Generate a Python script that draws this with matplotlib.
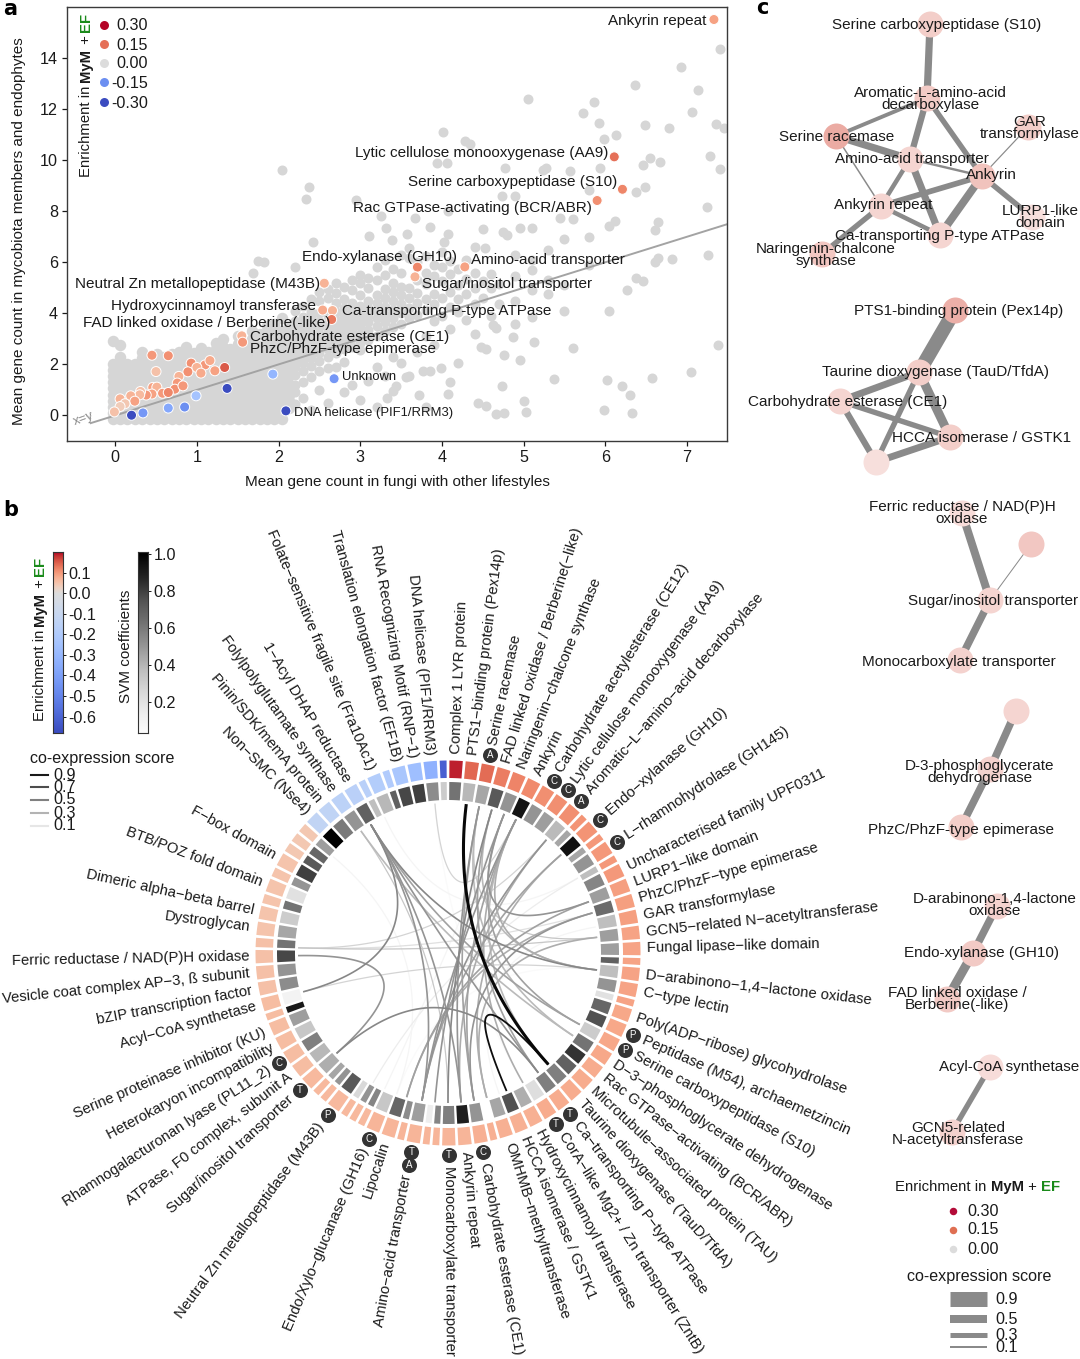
import numpy as np
import matplotlib
matplotlib.use("Agg")
import matplotlib.pyplot as plt
from matplotlib.colors import Normalize, TwoSlopeNorm

plt.rcParams['font.family'] = ['Liberation Sans', 'DejaVu Sans']
FS = 11.0
FL = 11.6
FR = 10.7
TXT = '#1a1a1a'

# ---------- panel a data ----------
cloud_col_x = [-.03,.06,.15,.24,.33,.42,.51,.6,.69,.78,.87,.96,1.05,1.14,1.23,1.32,1.41,1.5,1.59,1.68,1.77,1.86,1.95,2.04,2.13,
               2.2,2.3,2.4,2.5,2.6,2.7,2.8,2.9,3.0,3.1,3.2,3.3,3.4,3.5,3.6,3.7,3.8,3.9,4.0,4.1,4.2,4.3,4.4,4.5,4.6,4.7,4.9,5.1,5.3,5.5,5.8]
cloud_col_y = [
 [-.13,.1,.34,.58,.82,1.06,1.3,1.54,1.78,2.02,2.9],
 [-.13,.12,.36,.6,.84,1.08,1.32,1.56,1.8,2.05,2.3,2.75],
 [-.13,.1,.34,.58,.82,1.06,1.3,1.54,1.78,2.0],
 [-.13,.12,.36,.6,.84,1.08,1.32,1.56,1.8,2.0],
 [-.13,.1,.34,.58,.82,1.06,1.3,1.54,1.78,2.02,2.25,2.5],
 [-.13,.12,.36,.6,.84,1.08,1.32,1.56,1.8,2.1],
 [-.13,.1,.34,.58,.82,1.06,1.3,1.54,1.78,2.02,2.4],
 [-.13,.12,.36,.6,.84,1.08,1.32,1.56,1.8,2.05,2.3],
 [-.13,.1,.34,.58,.82,1.06,1.3,1.54,1.78,2.02,2.26,2.42],
 [-.13,.12,.36,.6,.84,1.08,1.32,1.56,1.8,2.05,2.25,2.5],
 [-.13,.1,.34,.58,.82,1.06,1.3,1.54,1.78,2.02,2.26,2.4,2.7],
 [-.13,.12,.36,.6,.84,1.08,1.32,1.56,1.8,2.05,2.3,2.45],
 [-.13,.1,.34,.58,.82,1.06,1.3,1.54,1.78,2.02,2.26,2.4,2.65],
 [-.13,.12,.36,.6,.84,1.08,1.32,1.56,1.8,2.05,2.3,2.5],
 [-.13,.1,.34,.58,.82,1.06,1.3,1.54,1.78,2.02,2.26,2.6,2.85],
 [-.13,.12,.36,.6,.84,1.08,1.32,1.56,1.8,2.05,2.3,2.55,2.7,3.0],
 [-.13,.1,.34,.58,.82,1.06,1.3,1.54,1.78,2.02,2.26,2.6],
 [-.13,.12,.36,.6,.84,1.08,1.32,1.56,1.8,2.05,2.3,2.55,2.8,3.1],
 [-.13,.1,.34,.58,.82,1.06,1.3,1.54,1.78,2.02,2.26,2.5,2.7],
 [-.13,.12,.36,.6,.84,1.08,1.32,1.56,1.8,2.05,2.3,2.55,2.8,3.0,3.3],
 [-.13,.1,.34,.58,.82,1.06,1.3,1.54,1.78,2.02,2.26,2.5,2.74,3.2],
 [-.13,.12,.36,.6,.84,1.08,1.32,1.56,1.8,2.05,2.3,2.55,2.8,3.1,3.5],
 [-.13,.1,.34,.58,.82,1.06,1.3,1.54,1.78,2.02,2.26,2.5,2.74,2.98,3.3,3.6],
 [-.13,.3,.6,.84,1.08,1.32,1.56,1.8,2.05,2.3,2.55,2.8,3.05,3.3,3.8],
 [.3,.55,.82,1.2,1.54,1.78,2.02,2.26,2.5,2.74,2.98,3.22,3.5],
 [.45,.9,1.2,1.6,1.9,2.15,2.4,2.65,2.9,3.15,3.4,3.7,4.1],
 [.7,1.3,1.75,2.05,2.3,2.55,2.8,3.05,3.3,3.55,3.85,4.3],
 [.2,1.5,1.95,2.25,2.5,2.75,3.0,3.25,3.5,3.8,4.05,4.55],
 [1.0,1.75,2.15,2.45,2.7,2.95,3.2,3.45,3.7,4.0,4.5,4.85],
 [.5,1.85,2.3,2.6,2.85,3.1,3.35,3.6,3.9,4.6,4.95],
 [1.9,2.45,2.75,3.0,3.25,3.5,3.75,4.05,4.4,4.8,5.2],
 [.9,2.1,2.6,2.9,3.15,3.4,3.65,3.9,4.2,4.55,5.05],
 [1.2,2.7,3.05,3.3,3.55,3.8,4.1,4.4,4.9,5.3],
 [.6,2.55,2.85,3.2,3.5,3.75,4.0,4.3,4.7,5.2,5.5],
 [1.35,2.95,3.35,3.65,3.9,4.2,4.5,5.0,5.4],
 [.35,1.9,3.1,3.5,3.8,4.1,4.4,4.7,5.3,5.8],
 [1.55,3.3,3.65,3.95,4.25,4.6,4.95,5.5,6.1],
 [.95,2.3,3.45,3.8,4.15,4.5,4.85,5.2,5.75],
 [2.05,3.6,4.0,4.35,4.7,5.05,5.6,6.3],
 [1.55,3.8,4.2,4.6,5.0,6.15,6.55],
 [2.5,3.95,4.4,4.8,5.3,6.0],
 [.35,3.1,4.15,4.55,5.15,5.6,6.25],
 [2.75,3.7,4.35,4.75,5.45,5.9],
 [3.9,4.6,5.25,5.8,6.4],
 [1.3,3.4,4.25,4.85,5.55,6.05],
 [2.05,4.05,4.55,5.1,5.75],
 [3.75,4.75,5.35,6.1],
 [3.2,4.35,5.0,5.6,6.6],
 [4.6,5.25,7.3],
 [3.9,5.0,5.55],
 [4.35,5.15],
 [3.6,4.5,5.45,6.3],
 [3.85,4.9,5.7,6.1],
 [4.75,5.3,6.5],
 [4.1,5.1,6.9],
 [5.9,7.0],
]
DENSE_COLS = 25
outlier_x = [7.40,6.93,6.36,7.13,5.05,5.86,5.73,7.06,5.92,6.48,6.78,7.35,7.45,4.01,6.13,5.99,4.28,4.34,7.28,6.55,6.67,6.46,3.94,4.06,4.77,5.24,5.27,5.57,5.93,7.4,2.04,2.37,6.37,6.49,5.8,4.73,4.89,2.34,7.25,2.95,3.25,3.67,4.08,5.44,5.6,6.12,6.04,6.64,6.61,3.31,4.95,5.1,3.86,4.75,4.8,3.11,4.08,3.57,3.39,2.42,4.02,4.53,7.26,6.64,6.61,6.82,1.75,1.82,2.2,1.69,6.37,6.46,6.26,6.05,4.63,4.66,4.87,5.13,5.6,7.38,4.48,4.54,4.76,4.95,7.05,3.99,3.77,3.85,6.57,5.37,6.02,4.73,6.2,6.3,4.07,3.72,4.44,4.54,5.0,5.99,6.33,4.66,4.76,5.03,3.44,3.33,3.56]
outlier_y = [14.35,13.64,12.96,12.75,12.38,12.28,11.83,11.9,11.46,11.36,11.25,11.41,11.25,11.12,11.0,10.82,10.77,10.64,10.18,10.08,9.92,9.83,9.9,9.88,9.7,9.62,9.71,9.58,9.69,9.66,9.6,8.96,8.77,8.96,8.84,8.58,8.58,8.46,8.15,8.45,7.82,7.72,7.99,7.73,7.69,7.6,7.43,7.56,7.25,7.36,7.34,7.34,7.38,7.2,7.08,7.04,7.1,7.11,6.88,6.79,6.81,6.55,6.29,6.16,6.03,6.14,6.07,6.03,5.8,5.57,5.4,5.25,4.9,4.11,3.55,3.42,3.09,2.86,2.66,2.77,2.7,2.6,2.35,2.18,1.72,1.85,1.76,1.75,1.46,1.42,1.4,1.17,1.14,.81,.84,.81,.48,.39,.55,.2,.09,.05,.09,.12,1.14,.68,1.52]

enr_x = [7.33,6.11,6.21,5.90,3.70,4.28,3.67,2.56,2.54,2.66,2.65,1.55,1.56,2.68,2.09,1.37,1.93,.99,.85,.65,.34,.2,
         1.34,.45,.65,.5,1.1,1.16,.93,1.22,1.0,.89,1.05,.78,.76,.73,.83,.46,.51,.58,.65,.45,.38,.31,.3,.19,.06,.24,.12,.06,-.01]
enr_y = [15.51,10.13,8.86,8.42,5.81,5.82,5.43,5.18,4.13,4.11,3.76,3.12,2.87,1.44,.18,1.06,1.62,.77,.33,.29,.10,.01,
         1.88,2.36,2.34,1.72,1.98,2.15,2.05,1.75,1.88,1.71,1.66,1.53,1.27,1.03,1.16,1.1,1.11,.87,.9,.84,.8,.94,.81,.77,.65,.56,.46,.35,.14]
enr_v = [.10,.15,.13,.12,.13,.10,.08,.08,.09,.08,.14,.08,.11,-.14,-.3,-.28,-.1,-.08,-.15,-.12,-.14,-.3,
         .17,.11,.12,.06,.11,.09,.12,.10,.08,.12,.09,.08,.11,.12,.11,.1,.08,.11,.13,.1,.11,.06,.07,.08,.08,.1,.05,.04,.06]
legend_a_vals = [.30,.15,0.0,-.15,-.30]
legend_a_labels = ['0.30','0.15','0.00','-0.15','-0.30']

a_labels = [("Ankyrin repeat",706,20,'right',FS),("Lytic cellulose monooxygenase (AA9)",608,152,'right',FS),
 ("Serine carboxypeptidase (S10)",617,181,'right',FS),("Rac GTPase-activating (BCR/ABR)",592,207,'right',FS),
 ("Endo-xylanase (GH10)",457,256,'right',FS),("Amino-acid transporter",471,259,'left',FS),
 ("Sugar/inositol transporter",422,283,'left',FS),("Neutral Zn metallopeptidase (M43B)",320,283,'right',FS),
 ("Hydroxycinnamoyl transferase",316,305,'right',FS),("Ca-transporting P-type ATPase",342,310,'left',FS),
 ("FAD linked oxidase / Berberine(-like)",330,322,'right',FS),("Carbohydrate esterase (CE1)",250,336,'left',FS),
 ("PhzC/PhzF-type epimerase",250,348,'left',FS),("Unknown",342,376,'left',9.4),("DNA helicase (PIF1/RRM3)",294,412,'left',9.4)]

# ---------- panel b data ----------
ring_width = [1,1,1,1,1,1,1,1,1,.6,1,.6,1,.6,1,1,1,1,1,1,.6,1,1,.6,1,1,1,1,1,1,1,1,1,1,1,1,.6,1,1,1,.6,.6,1,.6,1,1,.6,.6,.6,1,.6,.6,1,1,1,1,1,.6,1,1,1,1,.75,1,1,.75,1,.75,1,.75,.75,.75,1,1,1,1,.6,1,.6,1,1,1,.6]
ring_svm = [.55,.28,.35,.65,.42,.92,.42,.38,.27,.35,.93,.35,.42,.25,.48,.38,.58,.25,.38,.38,.62,.25,.42,.12,.6,.68,.2,.55,.8,.62,.5,.5,.13,.32,.68,.35,0,.42,.88,.5,.48,.07,.38,.45,.6,.22,.48,.42,.15,.65,.42,.35,.32,.28,.5,.22,.38,.9,.05,.45,.42,.72,.55,.35,.2,.55,.12,.42,.75,.65,.6,.38,1.0,.52,.42,.62,.25,.28,.62,.72,.75,.45,.2]
ring_enrich = [.19,.145,.14,.125,.12,.115,.11,.11,.11,.105,.105,.10,.10,.10,.10,.095,.095,.095,.09,.09,
 .09,.09,.09,.09,.085,.085,.085,.085,.08,.08,.08,.08,.08,.075,.075,.075,.075,.075,.07,.07,
 .07,.07,.07,.07,.07,.07,.065,.065,.065,.065,.065,.065,.065,.06,.06,.06,.06,.06,.06,.055,
 .055,.055,.055,.05,.05,.05,.05,.05,.05,.045,.045,.045,
 -.13,-.135,-.15,-.16,-.17,-.19,-.2,-.23,-.27,-.33,-.62]
ring_labels = ["Complex 1 LYR protein","PTS1−binding protein (Pex14p)","Serine racemase","FAD linked oxidase / Berberine(−like)",
 "Naringenin−chalcone synthase","Ankyrin","Carbohydrate acetylesterase (CE12)","Lytic cellulose monooxygenase (AA9)",
 "Aromatic−L−amino−acid decarboxylase","Endo−xylanase (GH10)","L−rhamnohydrolase (GH145)","Uncharacterised family UPF0311",
 "LURP1−like domain","PhzC/PhzF−type epimerase","GAR transformylase","GCN5−related N−acetyltransferase","Fungal lipase−like domain",
 "D−arabinono−1,4−lactone oxidase","C−type lectin","Poly(ADP−ribose) glycohydrolase","Peptidase (M54), archaemetzincin",
 "Serine carboxypeptidase (S10)","D−3−phosphoglycerate dehydrogenase","Rac GTPase−activating (BCR/ABR)",
 "Microtubule−associated protein (TAU)","Taurine dioxygenase (TauD/TfdA)","Ca−transporting P−type ATPase",
 "CorA−like Mg2+ / Zn transporter (ZntB)","Hydroxycinnamoyl transferase","HCCA isomerase / GSTK1","OMHMB−methyltransferase",
 "Carbohydrate esterase (CE1)","Ankyrin repeat","Monocarboxylate transporter","Amino−acid transporter","Lipocalin",
 "Endo/Xylo−glucanase (GH16)","Neutral Zn metallopeptidase (M43B)","Sugar/inositol transporter","ATPase, F0 complex, subunit A",
 "Rhamnogalacturonan lyase (PL11_2)","Heterokaryon incompatibility","Serine proteinase inhibitor (KU)","Acyl−CoA synthetase",
 "bZIP transcription factor","Vesicle coat complex AP−3, ß subunit","Ferric reductase / NAD(P)H oxidase","Dystroglycan",
 "Dimeric alpha−beta barrel","BTB/POZ fold domain","F−box domain","Non−SMC (Nse4)","Pinin/SDK/memA protein",
 "Folylpolyglutamate synthase","1−Acyl DHAP reductase","Folate−sensitive fragile site (Fra10Ac1)",
 "Translation elongation factor (EF1B)","RNA Recognizing Motif (RNP−1)","DNA helicase (PIF1/RRM3)"]
ring_badges = {"Serine racemase":"A","Carbohydrate acetylesterase (CE12)":"C","Lytic cellulose monooxygenase (AA9)":"C",
 "Aromatic−L−amino−acid decarboxylase":"A","Endo−xylanase (GH10)":"C","L−rhamnohydrolase (GH145)":"C",
 "Peptidase (M54), archaemetzincin":"P","Serine carboxypeptidase (S10)":"P","Ca−transporting P−type ATPase":"T",
 "CorA−like Mg2+ / Zn transporter (ZntB)":"T","Carbohydrate esterase (CE1)":"C","Monocarboxylate transporter":"T",
 "Amino−acid transporter":"TA","Endo/Xylo−glucanase (GH16)":"C","Neutral Zn metallopeptidase (M43B)":"P",
 "Sugar/inositol transporter":"T","Rhamnogalacturonan lyase (PL11_2)":"C"}
chord_a = [7,157,329,329,329,329,329,324.5,324.5,255,269,228,255,272,272,272,70,74.5,84,84,96.5,96.5,49,41,27,22,17,12,12,27,41,49,70,74.5,355,355,118.5,123.5,143,138,150,200,205,210,80,335,310]
chord_b = [138,138,96.5,190,175,118.5,143,123.5,180,329,228,143,96.5,84,74.5,41,22,170,165,12,17,27,190,190,190,185,180,175,170,170,175,165,196,196,27,150,22,12,17,27,27,96.5,22,60,160,60,200]
chord_s = [.97,.95,.55,.5,.5,.45,.5,.35,.3,.55,.5,.55,.25,.3,.2,.25,.5,.5,.4,.3,.35,.4,.45,.5,.5,.5,.55,.5,.45,.45,.4,.4,.45,.4,.25,.1,.45,.35,.45,.35,.4,.1,.12,.15,.12,.12,.12]
coexp_levels = [.9,.7,.5,.3,.1]

# ---------- panel c data ----------
net_nodes = {"S10":(930,24,.30),"Arom":(927,98,.32),"SerRac":(836,136,.55),"AA":(910,159,.25),"GAR":(1028,127,.3),
 "Ank":(982,176,.38),"AnkR":(881,206,.25),"LURP":(1032,217,.18),"Ca":(940,235,.25),"Nar":(822,254,.35),
 "PTS":(955,310,.52),"Tau":(919,372,.3),"CE1":(840,401,.25),"HCCA":(950,437,.3),"X1":(876,462,.18),
 "Fer":(962,513,.2),"X2":(1031,544,.35),"Sug":(990,600,.25),"Mono":(960,660,.27),
 "X3":(1016,711,.25),"D3":(990,769,.27),"Phz":(961,827,.3),
 "Dar":(997,906,.27),"Endo":(973,953,.33),"FAD":(947,999,.33),"Acyl":(990,1067,.2),"GCN":(952,1132,.27)}
net_edges = [("S10","Arom",7.2),("Arom","SerRac",3.9),("Arom","AA",6.3),("Arom","Ank",5.4),("SerRac","AA",7.2),("SerRac","AnkR",1.5),
 ("AA","Ank",2.4),("AA","AnkR",4.5),("AA","Ca",7.2),("GAR","Ank",1.2),("Ank","LURP",5.4),("Ank","AnkR",5.7),("Ank","Ca",7.8),("AnkR","Ca",4.5),("AnkR","Nar",5.4),
 ("PTS","Tau",14.0),("Tau","CE1",6.9),("Tau","HCCA",9.0),("Tau","X1",5.4),("CE1","HCCA",5.4),("CE1","X1",6.3),("HCCA","X1",6.9),
 ("Fer","Sug",8.0),("Sug","Mono",7.5),("Sug","X2",1.0),("X3","D3",7.5),("D3","Phz",7.5),("Dar","Endo",7.5),("Endo","FAD",9.0),("Acyl","GCN",5.4)]
net_labels = [("Serine carboxypeptidase (S10)",937,24),("Aromatic-L-amino-acid\ndecarboxylase",930,98),("Serine racemase",837,136),
 ("GAR\ntransformylase",1030,127),("Amino-acid transporter",912,158),("Ankyrin",991,174),("Ankyrin repeat",883,204),
 ("LURP1-like\ndomain",1040,216),("Ca-transporting P-type ATPase",940,235),("Naringenin-chalcone\nsynthase",826,254),
 ("PTS1-binding protein (Pex14p)",959,310),("Taurine dioxygenase (TauD/TfdA)",936,371),("Carbohydrate esterase (CE1)",848,401),
 ("HCCA isomerase / GSTK1",982,437),("Ferric reductase / NAD(P)H\noxidase",962,512),("Sugar/inositol transporter",993,600),
 ("Monocarboxylate transporter",959,661),("D-3-phosphoglycerate\ndehydrogenase",980,771),("PhzC/PhzF-type epimerase",961,829),
 ("D-arabinono-1,4-lactone\noxidase",995,904),("Endo-xylanase (GH10)",982,952),("FAD linked oxidase /\nBerberine(-like)",957,998),
 ("Acyl-CoA synthetase",1009,1066),("GCN5-related\nN-acetyltransferase",958,1133)]
score_bar_labels = ['0.9','0.5','0.3','0.1']
score_bar_px = [15,8,5,2]
enrich_c_vals = [.30,.15,0.0]
enrich_c_labels = ['0.30','0.15','0.00']

# ---------- figure ----------
W, H = 1080, 1359
fig = plt.figure(figsize=(W/100, H/100), dpi=100)
def box(l, t, r, b):
    return [l/W, 1-b/H, (r-l)/W, (b-t)/H]
PX = 0.72

# panel a
ax = fig.add_axes(box(67, 7, 727, 441))
cm = plt.get_cmap('coolwarm')
norm_a = Normalize(-.22, .22)
dx = [x for x, ys in zip(cloud_col_x[:DENSE_COLS], cloud_col_y[:DENSE_COLS]) for _ in ys]
dy = [y for ys in cloud_col_y[:DENSE_COLS] for y in ys]
gx = [x for x, ys in zip(cloud_col_x[DENSE_COLS:], cloud_col_y[DENSE_COLS:]) for _ in ys] + outlier_x
gy = [y for ys in cloud_col_y[DENSE_COLS:] for y in ys] + outlier_y
ax.scatter(dx, dy, s=(11.5*PX)**2, c='#d6d6d6', linewidths=0, zorder=1)
ax.scatter(gx, gy, s=(10*PX)**2, c='#d6d6d6', linewidths=0, zorder=1)
ax.plot([-.3, 7.5], [-.3, 7.5], color='#a3a3a3', lw=1.4, zorder=2)
ax.scatter(enr_x, enr_y, s=(10*PX)**2, c=enr_v, cmap=cm, norm=norm_a, edgecolors='white', linewidths=.7, zorder=3, clip_on=False)
ax.set_xlim(-.59, 7.49); ax.set_ylim(-1.0, 16.0)
ax.set_xticks(range(8)); ax.set_yticks(range(0, 15, 2))
ax.tick_params(labelsize=FL, colors=TXT, length=3.5, width=.9, pad=3)
for s in ax.spines.values():
    s.set_color('#3a3a3a'); s.set_linewidth(1.0)

# overlay in pixel units
ov = fig.add_axes([0, 0, 1, 1], zorder=5)
ov.set_xlim(0, W); ov.set_ylim(H, 0); ov.axis('off'); ov.patch.set_alpha(0)

def T(x, y, s, ha='left', va='center', size=FS, **kw):
    kw.setdefault('color', TXT)
    return ov.text(x, y+1, s, ha=ha, va=va, fontsize=size, **kw)

def rich(x, y, parts, rotation=0, size=FS):
    r = fig.canvas.get_renderer()
    th = np.deg2rad(rotation)
    px, py = x, y
    for s, weight, col in parts:
        ov.text(px, py, s, fontsize=size, fontweight=weight, color=col, rotation=rotation,
                rotation_mode='anchor', ha='left', va='baseline')
        tmp = ov.text(0, 0, 'x' + s + 'x', fontsize=size, fontweight=weight)
        w = tmp.get_window_extent(r).width
        tmp.set_text('xx')
        w -= tmp.get_window_extent(r).width
        tmp.remove()
        px += w*np.cos(th); py -= w*np.sin(th)

GREEN = '#1a8a1a'
ENR = [("Enrichment in ", 'normal', TXT), ("MyM", 'bold', TXT), (" + ", 'normal', TXT), ("EF", 'bold', GREEN)]
T(19, 230, "Mean gene count in mycobiota members and endophytes", ha='center', rotation=90)
T(397, 481, "Mean gene count in fungi with other lifestyles", ha='center')
T(72, 418, "x=y", rotation=20, color='#8a8a8a', size=9.5, ha='left')
for s, x, y, ha, sz in a_labels:
    T(x, y, s, ha=ha, size=sz)
rich(90, 177, ENR, rotation=90, size=FR)
for i, (v, l) in enumerate(zip(legend_a_vals, legend_a_labels)):
    y = [25, 44, 63, 82, 102][i]
    ov.scatter([104], [y], s=(9*PX)**2, color=cm(norm_a(v)) if v else '#dcdcdc', linewidths=0)
    T(148, y, l, ha='right', size=FL)

for s, x, y in [('a', 3, 9), ('b', 3, 510), ('c', 756, 8)]:
    ov.text(x, y, s, fontsize=15, fontweight='bold', family='DejaVu Sans', va='center', color='black')

# panel b colorbars
cb1 = fig.add_axes(box(53, 552, 63, 733))
norm_b = TwoSlopeNorm(vmin=-.68, vcenter=0, vmax=.2)
grad = np.linspace(.2, -.68, 256)[:, None]
cb1.imshow(grad, aspect='auto', cmap=cm, norm=norm_b, extent=[0, 1, -.68, .2])
cb1.set_xticks([]); cb1.yaxis.tick_right()
cb1.set_yticks([.1, 0, -.1, -.2, -.3, -.4, -.5, -.6])
cb1.set_yticklabels(['0.1', '0.0', '-0.1', '-0.2', '-0.3', '-0.4', '-0.5', '-0.6'])
cb1.tick_params(labelsize=FL, colors=TXT, length=2.5, width=.7, pad=1.5)
cb2 = fig.add_axes(box(138, 552, 148, 733))
grad2 = np.linspace(1.01, .03, 256)[:, None]
cb2.imshow(grad2, aspect='auto', cmap='Greys', vmin=0, vmax=1, extent=[0, 1, .03, 1.01])
cb2.set_xticks([]); cb2.yaxis.tick_right()
cb2.set_yticks([.2, .4, .6, .8, 1.0])
cb2.tick_params(labelsize=FL, colors=TXT, length=2.5, width=.7, pad=1.5)
for c in (cb1, cb2):
    for s in c.spines.values():
        s.set_color('#333333'); s.set_linewidth(.8)
rich(44, 721, ENR, rotation=90, size=FR)
T(126, 645, "SVM coefficients", rotation=90, ha='center')
T(30, 757, "co-expression score", size=FL)
for y, v in zip([775, 787, 800, 813, 826], coexp_levels):
    ov.plot([31, 48], [y, y], color=str(1-v), lw=1.5)
    T(53, y-1, f"{v:.1f}", size=FL)

# panel b chord diagram (polar, r in pixels)
CX, CY, RM = 448, 953, 300
pol = fig.add_axes(box(CX-RM, CY-RM, CX+RM, CY+RM), projection='polar', zorder=3)
pol.patch.set_alpha(0)
pol.set_theta_zero_location('N'); pol.set_theta_direction(-1)
pol.set_rlim(0, RM); pol.axis('off')
unit = 360/sum(ring_width)
widths = [unit*w for w in ring_width]
starts = np.concatenate([[0], np.cumsum(widths)[:-1]])
mids = starts + np.array(widths)/2
thetas = np.deg2rad(mids)
bw = np.deg2rad(np.array(widths) - .85)
pol.bar(thetas, 17.5, width=bw, bottom=175, color=[cm(norm_b(v)) for v in ring_enrich], linewidth=0)
pol.bar(thetas, 18, width=bw, bottom=153, color=[plt.get_cmap('gray_r')(v) for v in ring_svm], linewidth=0)

for a, b, s in sorted(zip(chord_a, chord_b, chord_s), key=lambda z: z[2]):
    ta, tb = np.deg2rad(a), np.deg2rad(b)
    p0 = np.array([150*np.sin(ta), 150*np.cos(ta)])
    p1 = np.array([150*np.sin(tb), 150*np.cos(tb)])
    u = np.linspace(0, 1, 60)[:, None]
    pts = (1-u)**2*p0 + u**2*p1          # control point at the circle's centre
    lw = 2.2 if s > .96 else 1.3 if s > .9 else 1.2 if s > .3 else .9
    col = str(1-s) if s > .9 else str(min(1, 1-s+.08))
    pol.plot(np.arctan2(pts[:, 0], pts[:, 1]), np.hypot(pts[:, 0], pts[:, 1]), color=col, lw=lw, solid_capstyle='butt')

normal_mids = [m for m, w in zip(mids, ring_width) if w == 1]
for name, deg in zip(ring_labels, normal_mids):
    badge = ring_badges.get(name, "")
    rad = 199 + 12*len(badge) + (2 if badge else 0)
    th = np.deg2rad(deg)
    if deg < 180:
        rot, ha = 90-deg, 'left'
    else:
        rot, ha = 270-deg, 'right'
    pol.text(th, rad, name, rotation=rot, rotation_mode='anchor', ha=ha, va='center', fontsize=FR, color=TXT, clip_on=False)
    for k, letter in enumerate(badge):
        r = 202 + 14*k
        pol.scatter([th], [r], s=(15*PX)**2, color='#333333', linewidths=0, clip_on=False, zorder=4)
        pol.text(th, r, letter, color='white', fontsize=7, ha='center', va='center', clip_on=False, zorder=5)
pol.set_rlim(0, RM)

# panel c networks
for a, b, w in net_edges:
    xa, ya, _ = net_nodes[a]; xb, yb, _ = net_nodes[b]
    ov.plot([xa, xb], [ya, yb], color='#8a8a8a', lw=w*PX, solid_capstyle='butt', zorder=1)
for k, (x, y, v) in net_nodes.items():
    base = np.array([1, 1, 1]) + (np.array([.87, .45, .40]) - 1)*(v + .05)
    ov.scatter([x], [y], s=(26*PX)**2, color=[tuple(base)], linewidths=0, zorder=2)
for s, x, y in net_labels:
    T(x, y, s, ha='center', linespacing=.85, zorder=3, size=FS, multialignment='center')

# panel c legends
rich(895, 1191, ENR, size=FR)
for y, v, l in zip([1211, 1230, 1249], enrich_c_vals, enrich_c_labels):
    ov.scatter([953], [y], s=(7.5*PX)**2, color={.30: '#b30b38', .15: '#df6f52', 0.0: '#dcdcdc'}[v], linewidths=0)
    T(967, y-1, l, size=FL)
T(979, 1275, "co-expression score", ha='center', size=FL)
for y, l, w in zip([1299, 1319, 1335, 1347], score_bar_labels, score_bar_px):
    ov.plot([950, 987], [y, y], color='#8a8a8a', lw=w*PX, solid_capstyle='butt')
    T(995, y-1, l, size=FL)

fig.savefig('out.png', dpi=100)
